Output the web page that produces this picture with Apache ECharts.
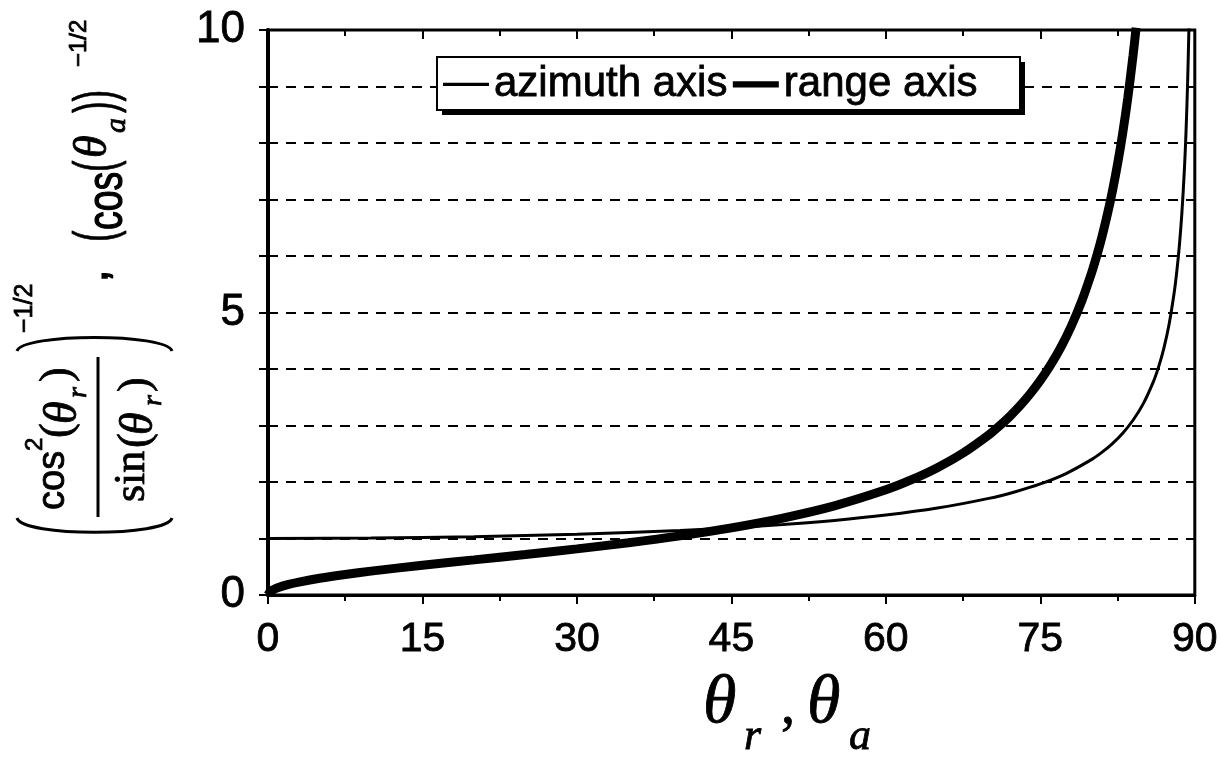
<!DOCTYPE html>
<html>
<head>
<meta charset="utf-8">
<script src="https://cdn.jsdelivr.net/npm/echarts@6/dist/echarts.min.js"></script>
<style>
  html, body { margin: 0; padding: 0; background: #fff; }
  #chart { width: 1221px; height: 761px; }
</style>
</head>
<body>
<div id="chart"></div>
<script>
// ---- data ----
const xTicks = [0, 15, 30, 45, 60, 75, 90];
const yTickLabels = [0, 5, 10];
const seriesNames = ['azimuth axis', 'range axis'];

const azimuthTheta = [0, 10, 20, 30, 40, 45, 50, 55, 60, 65, 70, 72.5, 75, 77.5, 80, 81, 82, 83, 84, 85, 86, 86.5, 87, 87.5, 88, 88.25, 88.5, 88.75, 89, 89.15, 89.3, 89.45];
const azimuthValue = [1, 1.008, 1.032, 1.075, 1.143, 1.189, 1.247, 1.320, 1.414, 1.538, 1.710, 1.824, 1.966, 2.150, 2.400, 2.528, 2.680, 2.864, 3.093, 3.387, 3.786, 4.047, 4.371, 4.788, 5.353, 5.722, 6.180, 6.771, 7.570, 8.211, 9.048, 10.2];

const rangeTheta = [0, 0.25, 0.5, 1, 2, 3, 5, 7.5, 10, 15, 20, 25, 30, 35, 40, 45, 50, 55, 60, 62.5, 65, 67.5, 70, 71, 72, 73, 74, 75, 76, 77, 78, 79, 80, 80.5, 81, 81.5, 82, 82.5, 83, 83.5, 84, 84.3];
const rangeValue = [0, 0.066, 0.093, 0.132, 0.187, 0.229, 0.296, 0.364, 0.423, 0.527, 0.622, 0.717, 0.816, 0.925, 1.047, 1.189, 1.362, 1.578, 1.861, 2.040, 2.253, 2.512, 2.834, 2.987, 3.156, 3.344, 3.557, 3.797, 4.072, 4.387, 4.757, 5.193, 5.716, 6.017, 6.353, 6.728, 7.150, 7.628, 8.175, 8.805, 9.543, 10.04];

// ---- build ----
const pairs = (xs, ys) => xs.map((x, i) => [x, ys[i]]);
const SANS = 'Liberation Sans, Arial, sans-serif';
const SERIF = 'Liberation Serif, Times New Roman, serif';

// rotated (reading bottom-to-top) text piece: bx = screen x of baseline, y0 = screen y where text starts
function rot(text, bx, y0, family, size, extra) {
  extra = extra || {};
  return {
    type: 'text',
    x: bx - 0.35 * size,
    y: y0,
    rotation: Math.PI / 2,
    scaleX: extra.sx || 1,
    style: {
      text: text,
      font: (extra.italic ? 'italic ' : '') + size + 'px ' + family,
      fill: '#000',
      stroke: '#000',
      lineWidth: extra.lw == null ? 0.8 : extra.lw,
      textAlign: 'left',
      textVerticalAlign: 'middle'
    },
    silent: true
  };
}
// horizontal text piece: x = left, by = baseline
function hor(text, x, by, family, size, italic) {
  return {
    type: 'text',
    x: x,
    y: by - 0.35 * size,
    style: {
      text: text,
      font: (italic ? 'italic ' : '') + size + 'px ' + family,
      fill: '#000',
      stroke: '#000',
      lineWidth: 0.8,
      textAlign: 'left',
      textVerticalAlign: 'middle'
    },
    silent: true
  };
}

const chart = echarts.init(document.getElementById('chart'));

const graphics = [
  // legend frame with solid drop shadow
  { type: 'rect', z: 8, shape: { x: 442, y: 62, width: 583, height: 53 }, style: { fill: '#000' }, silent: true },
  { type: 'rect', z: 9, shape: { x: 437, y: 57, width: 583, height: 53 }, style: { fill: '#fff', stroke: '#000', lineWidth: 2 }, silent: true },
  // numerator cos^2(theta_r)
  rot('cos', 67, 510, SANS, 38),
  rot('2', 44, 451, SANS, 24),
  rot('(', 74, 438, SERIF, 44),
  rot('θ', 80, 424, SERIF, 46, { italic: true }),
  rot('r', 88, 398, SERIF, 28, { italic: true }),
  rot(')', 74, 382, SERIF, 44),
  // fraction bar
  { type: 'line', shape: { x1: 98, y1: 357, x2: 98, y2: 517 }, style: { stroke: '#000', lineWidth: 3 }, silent: true },
  // denominator sin(theta_r)
  rot('sin', 148, 502, SERIF, 44),
  rot('(', 152, 448, SERIF, 44),
  rot('θ', 156, 435, SERIF, 46, { italic: true }),
  rot('r', 163, 406, SERIF, 28, { italic: true }),
  rot(')', 152, 392, SERIF, 44),
  // big brackets around the fraction
  { type: 'bezierCurve', shape: { x1: 17, y1: 518, x2: 172, y2: 518, cpx1: 22, cpy1: 537, cpx2: 167, cpy2: 537 }, style: { stroke: '#000', lineWidth: 3, fill: null }, silent: true },
  { type: 'bezierCurve', shape: { x1: 17, y1: 351, x2: 172, y2: 351, cpx1: 22, cpy1: 333, cpx2: 167, cpy2: 333 }, style: { stroke: '#000', lineWidth: 3, fill: null }, silent: true },
  rot('−1/2', 34, 333, SANS, 25),
  // comma
  rot(',', 110, 282, SANS, 44, { lw: 1.5 }),
  // (cos(theta_a))^-1/2
  rot('(', 118, 242, SANS, 58, { sx: 0.6 }),
  rot('cos', 126, 230, SANS, 50, { sx: 0.75, lw: 1.2 }),
  rot('(', 118, 172, SANS, 58, { sx: 0.6 }),
  rot('θ', 110, 158, SERIF, 46, { italic: true }),
  rot('a', 128, 133, SERIF, 30, { italic: true }),
  rot('))', 118, 113, SANS, 58, { sx: 0.6 }),
  rot('−1/2', 88, 67, SANS, 24),
  // x axis title
  hor('θ', 703, 728, SERIF, 68, true),
  hor('r', 744, 753, SERIF, 44, true),
  hor(',', 781, 728, SERIF, 56, false),
  hor('θ', 807, 728, SERIF, 68, true),
  hor('a', 849, 753, SERIF, 44, true)
];

const labelStyle = { color: '#000', fontSize: 41, fontFamily: SANS, textBorderColor: '#000', textBorderWidth: 0.8 };

const baseX = {
  type: 'value', min: 0, max: 90, interval: 15,
  axisLine: { show: true, lineStyle: { color: '#000', width: 3 } },
  axisTick: { show: true, length: 9, lineStyle: { color: '#000', width: 2 } },
  minorTick: { show: true, splitNumber: 2, length: 6, lineStyle: { color: '#000', width: 2 } },
  axisLabel: Object.assign({
    show: true, margin: 24,
    formatter: v => (xTicks.indexOf(v) >= 0 ? String(v) : '')
  }, labelStyle),
  splitLine: { show: false }
};

chart.setOption({
  animation: false,
  backgroundColor: '#fff',
  grid: { left: 268, right: 21, top: 30, bottom: 166, show: true, borderColor: '#000', borderWidth: 3, backgroundColor: 'transparent' },
  legend: {
    left: 437, top: 57, z: 10,
    data: [
      { name: seriesNames[0], icon: 'path://M0,0L44,0L44,3L0,3Z' },
      { name: seriesNames[1], icon: 'path://M0,0L50,0L50,7L0,7Z' }
    ],
    itemWidth: 46, itemHeight: 14, itemGap: 5,
    padding: [6, 44, 6, 6],
    textStyle: { color: '#000', fontSize: 42, fontFamily: SANS, textBorderColor: '#000', textBorderWidth: 0.8 },
    selectedMode: false
  },
  xAxis: [
    baseX,
    Object.assign({}, baseX, {
      axisLine: { show: false },
      axisTick: { show: true, inside: true, length: 9, lineStyle: { color: '#000', width: 2 } },
      minorTick: { show: true, splitNumber: 2, length: 6, lineStyle: { color: '#000', width: 2 } },
      axisLabel: { show: false }
    })
  ],
  yAxis: {
    type: 'value', min: 0, max: 10, interval: 1,
    axisLine: { show: true, lineStyle: { color: '#000', width: 4 } },
    axisTick: { show: true, length: 9, lineStyle: { color: '#000', width: 2 } },
    axisLabel: Object.assign({
      margin: 23,
      formatter: v => (yTickLabels.indexOf(v) >= 0 ? String(v) : '')
    }, labelStyle, { fontSize: 44 }),
    splitLine: { show: true, lineStyle: { color: '#000', width: 2, type: [10, 8] } }
  },
  series: [
    {
      name: seriesNames[0], type: 'line', data: pairs(azimuthTheta, azimuthValue),
      showSymbol: false, symbol: 'none', smooth: 0.3, clip: true,
      lineStyle: { color: '#000', width: 3 }, itemStyle: { color: '#000' }, z: 3
    },
    {
      name: seriesNames[1], type: 'line', data: pairs(rangeTheta, rangeValue),
      showSymbol: false, symbol: 'none', smooth: 0.3, clip: true,
      lineStyle: { color: '#000', width: 9 }, itemStyle: { color: '#000' }, z: 2
    }
  ],
  graphic: graphics
});
</script>
</body>
</html>
